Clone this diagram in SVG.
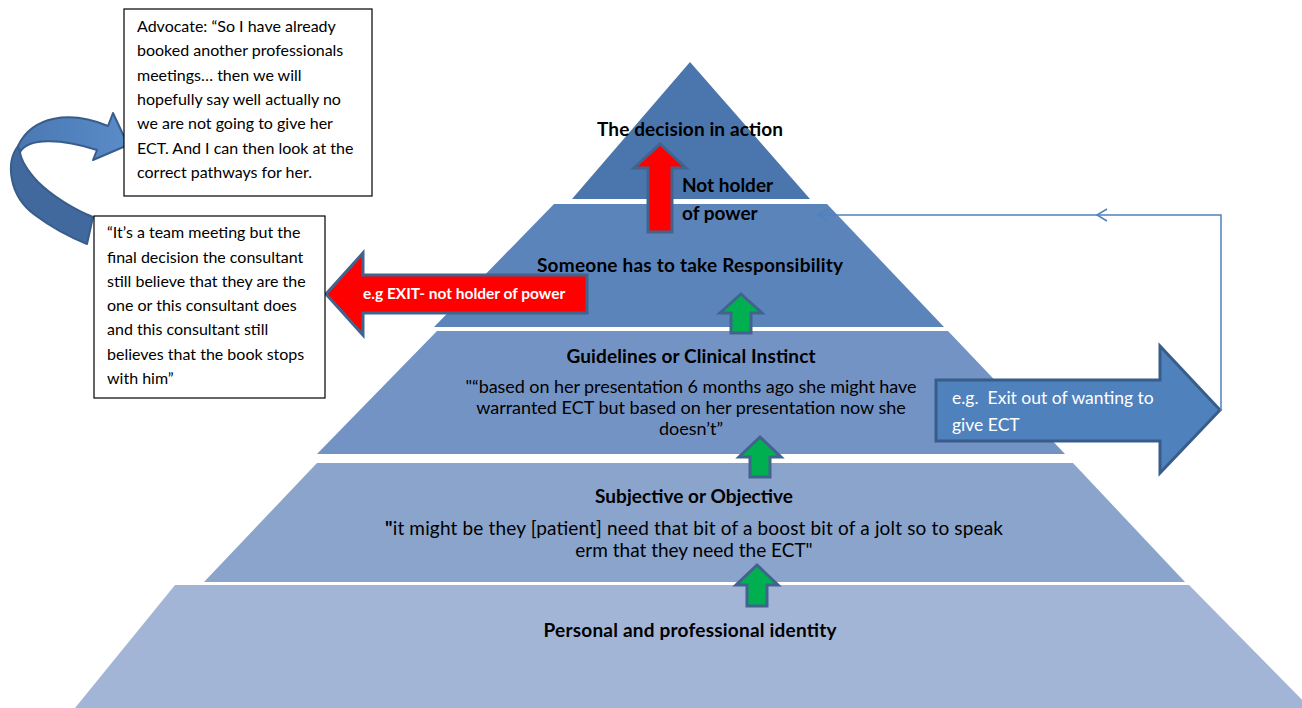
<svg xmlns="http://www.w3.org/2000/svg" width="1302" height="708" viewBox="0 0 1302 708">
<defs>
<style>
text{font-family:Lato,"Liberation Sans",sans-serif;fill:#000}
.h{font-weight:bold;font-size:19px;text-anchor:middle}
.q{font-size:18px;text-anchor:middle}
.q2{font-size:19px;text-anchor:middle}
.bx{font-size:16px}
.box{fill:#fff;stroke:#000;stroke-width:1.2}
.green{fill:#00b050;stroke:#41648f;stroke-width:3;stroke-linejoin:miter}
.red{fill:#ff0000;stroke:#41648f;stroke-width:3}
.fb{fill:none;stroke:#4f81bd;stroke-width:1.5}
.w{fill:#fff}
</style>
<linearGradient id="gLight" x1="0" y1="0" x2="1" y2="0">
<stop offset="0" stop-color="#4a78b2"/>
<stop offset="1" stop-color="#5a8cc8"/>
</linearGradient>
</defs>
<rect width="1302" height="708" fill="#fff"/>

<g id="pyramid">
<polygon id="level5" points="175,585 1189,585 1310,708 75,708" fill="#a3b5d6"/>
<polygon id="level4" points="317,463 1073,463 1185,582 204,582" fill="#8aa4cb"/>
<polygon id="level3" points="437,331 948,331 1065,454 317,454" fill="#7393c4"/>
<polygon id="level2" points="554,204 827,204 944,327 434,327" fill="#5b84bb"/>
<polygon id="level1" points="690,62 810,199 572,199" fill="#4a75ad"/>
</g>

<g id="labels">
<text class="h" x="690" y="136" textLength="186">The decision in action</text>
<text class="h" x="690" y="272" textLength="306">Someone has to take Responsibility</text>
<text class="h" x="691" y="363" textLength="249">Guidelines or Clinical Instinct</text>
<text class="q" x="691" y="393" textLength="451">"“based on her presentation 6 months ago she might have</text>
<text class="q" x="691" y="414">warranted ECT but based on her presentation now she</text>
<text class="q" x="691" y="435">doesn’t”</text>
<text class="h" x="694" y="503" textLength="198">Subjective or Objective</text>
<text class="q2" x="694" y="535" textLength="618"><tspan font-weight="bold">"</tspan>it might be they [patient] need that bit of a boost bit of a jolt so to speak</text>
<text class="q2" x="694" y="557">erm that they need the ECT"</text>
<text class="h" x="690" y="637" textLength="293">Personal and professional identity</text>
</g>

<g id="connectors">
<polygon id="red-up" class="red" points="660,144 686,168 672,168 672,232 648,232 648,168 634,168"/>
<text x="682" y="192" font-weight="bold" font-size="19">Not holder</text>
<text x="682" y="220" font-weight="bold" font-size="19">of power</text>

<polygon id="green1" class="green" points="741,294 762,313 751,313 751,333 731,333 731,313 720,313"/>
<polygon id="green2" class="green" points="760,437 781,457 770,457 770,477 750,477 750,457 739,457"/>
<polygon id="green3" class="green" points="757,565 778,585 767,585 767,606 747,606 747,585 736,585"/>

<g id="red-left">
<polygon class="red" points="326,294 363,253 363,275 587,275 587,313 363,313 363,335"/>
<text class="w" x="363" y="299" font-weight="bold" font-size="15.5">e.g EXIT- not holder of power</text>
</g>

<g id="blue-right">
<polygon points="1220,410 1160,346 1160,380 936,380 936,441 1160,441 1160,473" fill="#4f81bd" stroke="#385d8a" stroke-width="3"/>
<text class="w" x="952" y="404" font-size="17.5" style="white-space:pre">e.g.  Exit out of wanting to</text>
<text class="w" x="952" y="431" font-size="17.5">give ECT</text>
</g>

<g id="feedback">
<polyline class="fb" points="1221,411 1221,215 818,215"/>
<polyline class="fb" points="1107,209 1097,215 1107,221"/>
<polyline class="fb" points="828,209 818,215 828,221"/>
</g>

<g id="curved-arrow" stroke="#385d8a" stroke-width="2" stroke-linejoin="round">
<path d="M18,146 C6,162 8,195 35,215 C55,230 72,238 87,244 L93,217 C75,210 52,196 38,182 C27,170 21,160 20,152 Z" fill="#41699d"/>
<path d="M20,152 C28,138 60,138 97,150 L93,160 L128,145 L113,113 L108,126 C70,110 32,116 18,146 Z" fill="url(#gLight)"/>
</g>
</g>

<g id="box-advocate">
<rect class="box" x="124" y="9" width="248" height="187"/>
<text class="bx" x="137" y="32">Advocate: “So I have already</text>
<text class="bx" x="137" y="56">booked another professionals</text>
<text class="bx" x="137" y="81">meetings… then we will</text>
<text class="bx" x="137" y="105">hopefully say well actually no</text>
<text class="bx" x="137" y="129">we are not going to give her</text>
<text class="bx" x="137" y="154">ECT. And I can then look at the</text>
<text class="bx" x="137" y="178">correct pathways for her.</text>
</g>

<g id="box-team">
<rect class="box" x="94" y="216" width="231" height="182"/>
<text class="bx" x="107" y="238">“It’s a team meeting but the</text>
<text class="bx" x="107" y="263">final decision the consultant</text>
<text class="bx" x="107" y="287">still believe that they are the</text>
<text class="bx" x="107" y="311">one or this consultant does</text>
<text class="bx" x="107" y="335">and this consultant still</text>
<text class="bx" x="107" y="360">believes that the book stops</text>
<text class="bx" x="107" y="384">with him”</text>
</g>
</svg>
